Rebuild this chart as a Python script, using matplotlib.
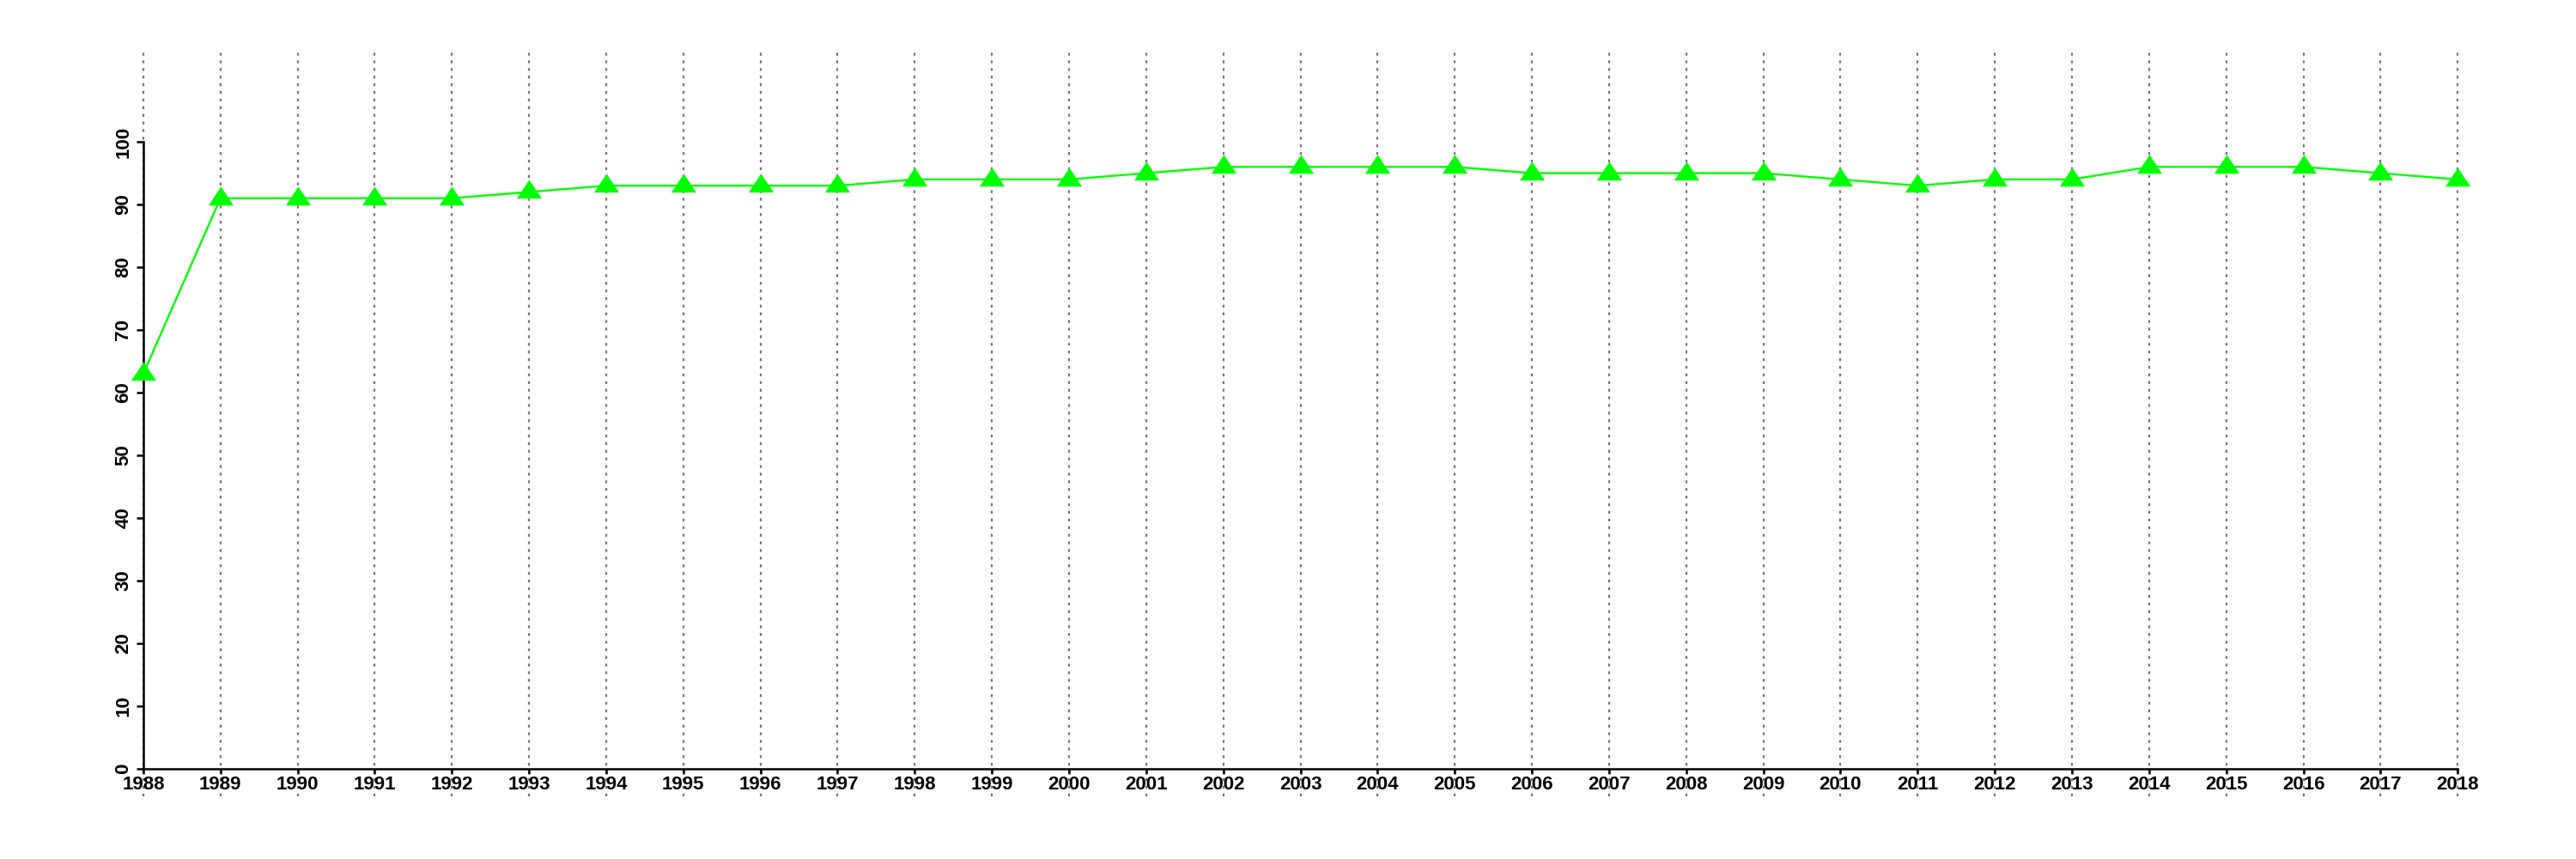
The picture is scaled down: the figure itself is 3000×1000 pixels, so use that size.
import matplotlib
matplotlib.use("Agg")
import matplotlib.pyplot as plt

# data
years = list(range(1988, 2019))
values = [63, 91, 91, 91, 91, 92, 93, 93, 93, 93,
          94, 94, 94, 95, 96, 96, 96, 96, 95, 95,
          95, 95, 94, 93, 94, 94, 96, 96, 96, 95, 94]
y_ticks = [0, 10, 20, 30, 40, 50, 60, 70, 80, 90, 100]

plt.rcParams['font.family'] = ['Liberation Sans', 'DejaVu Sans']
plt.rcParams['font.weight'] = 'bold'

fig = plt.figure(figsize=(30, 10), dpi=100)
ax = fig.add_axes([0.0197, 0.073, 0.9703, 0.867])

# spines first: moving them resets the ticks
for side in ['top', 'right']:
	ax.spines[side].set_visible(False)
ax.spines['left'].set_position(('data', 1988))
ax.spines['bottom'].set_position(('data', 0))
ax.spines['left'].set_linewidth(1.8)
ax.spines['bottom'].set_linewidth(1.8)

# vertical dotted grid, one per year
for yr in years:
	ax.axvline(yr, color='#777777', lw=1.6, linestyle=(0, (1.5, 2.5)), zorder=1)

# triangle marker, centre sits low like R's pch 17
tri = [(-1, -0.53), (1, -0.53), (0, 0.97)]
ax.plot(years, values, color='#00ff00', lw=1.7, marker=tri, markersize=21,
        markerfacecolor='#00ff00', markeredgewidth=0, zorder=3)

ax.set_xlim(1988 - 1.2, 2018 + 1.2)
ax.set_ylim(-4.4, 114.4)

ax.set_xticks(years)
ax.set_xticklabels([str(y) for y in years], fontsize=16, fontweight='bold')
ax.set_yticks(y_ticks)
ax.set_yticklabels([str(v) for v in y_ticks], fontsize=16, fontweight='bold',
                   rotation=90, va='center')

ax.tick_params(axis='x', length=4.5, width=1.8, pad=1.5)
ax.tick_params(axis='y', length=6, width=1.8, pad=3)

ax.spines['left'].set_bounds(0, 100)
ax.spines['bottom'].set_bounds(1988, 2018)

fig.savefig("out.png", dpi=100)
